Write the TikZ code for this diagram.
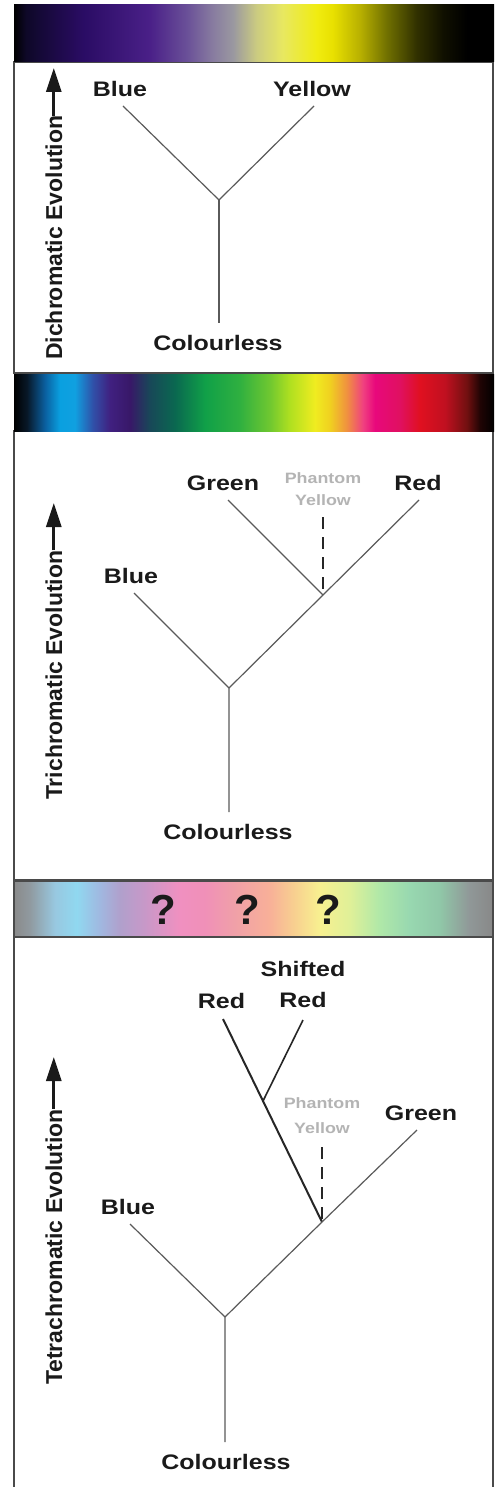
\documentclass[tikz,border=0pt]{standalone}
\usepackage{fontspec}
\setmainfont{Liberation Sans}
\usetikzlibrary{arrows.meta}
% bar 1 colours
\definecolor{aA}{HTML}{0E0828}\definecolor{aB}{HTML}{2A0C64}\definecolor{aC}{HTML}{4A2088}
\definecolor{aD}{HTML}{6A5098}\definecolor{aE}{HTML}{887CA0}\definecolor{aF}{HTML}{9A98A0}
\definecolor{aG}{HTML}{CCCC80}\definecolor{aH}{HTML}{E8E860}\definecolor{aI}{HTML}{F0EC10}
\definecolor{aJ}{HTML}{E8E000}\definecolor{aK}{HTML}{B8B000}\definecolor{aL}{HTML}{707000}
\definecolor{aM}{HTML}{303000}\definecolor{aN}{HTML}{101000}
% bar 2 colours
\definecolor{bA}{HTML}{081828}\definecolor{bB}{HTML}{0A60A0}\definecolor{bC}{HTML}{0AA0E0}
\definecolor{bD}{HTML}{10A0E0}\definecolor{bE}{HTML}{3050A8}\definecolor{bF}{HTML}{402080}
\definecolor{bG}{HTML}{381868}\definecolor{bH}{HTML}{184858}\definecolor{bI}{HTML}{0A6850}
\definecolor{bJ}{HTML}{10A048}\definecolor{bK}{HTML}{30B040}\definecolor{bL}{HTML}{70C830}
\definecolor{bM}{HTML}{B0E020}\definecolor{bN}{HTML}{F0EC20}\definecolor{bO}{HTML}{F0D020}
\definecolor{bP}{HTML}{F09040}\definecolor{bQ}{HTML}{F04080}\definecolor{bR}{HTML}{E8087C}
\definecolor{bS}{HTML}{E01060}\definecolor{bT}{HTML}{E01020}\definecolor{bU}{HTML}{C01020}
\definecolor{bV}{HTML}{701010}\definecolor{bW}{HTML}{200404}
% bar 3 colours
\definecolor{cA}{HTML}{8A8A8A}\definecolor{cB}{HTML}{909AA0}\definecolor{cC}{HTML}{98C8E0}
\definecolor{cD}{HTML}{90D8F0}\definecolor{cE}{HTML}{A0B8E0}\definecolor{cF}{HTML}{B0A0CC}
\definecolor{cG}{HTML}{C898C8}\definecolor{cH}{HTML}{F090C0}\definecolor{cI}{HTML}{F090B8}
\definecolor{cJ}{HTML}{F0A0A8}\definecolor{cK}{HTML}{F8B098}\definecolor{cL}{HTML}{F8D090}
\definecolor{cM}{HTML}{F8F090}\definecolor{cN}{HTML}{E0F098}\definecolor{cO}{HTML}{B0E8A8}
\definecolor{cP}{HTML}{98D8B0}\definecolor{cQ}{HTML}{90C8A8}\definecolor{cR}{HTML}{909898}
\definecolor{cS}{HTML}{888888}
% other colours
\definecolor{labelc}{HTML}{1A1A1A}
\definecolor{phc}{HTML}{B4B4B4}
\definecolor{linec}{HTML}{5A5A5A}
\definecolor{framec}{HTML}{4A4A4A}
\definecolor{darkline}{HTML}{262626}
% shadings: the middle 25bp..75bp part is fitted to the path
\pgfdeclarehorizontalshading{specA}{100bp}{color(0bp)=(black); color(25bp)=(black); color(26.25bp)=(aA);
  color(32.19bp)=(aB); color(39.17bp)=(aC); color(43.02bp)=(aD); color(45.73bp)=(aE); color(47.81bp)=(aF);
  color(50.31bp)=(aG); color(53.02bp)=(aH); color(56.56bp)=(aI); color(58.23bp)=(aJ); color(61.04bp)=(aK);
  color(63.85bp)=(aL); color(66.98bp)=(aM); color(69.69bp)=(aN); color(72.19bp)=(black); color(75bp)=(black);
  color(100bp)=(black)}
\pgfdeclarehorizontalshading{specB}{100bp}{color(0bp)=(black); color(25bp)=(black); color(26.35bp)=(bA);
  color(28.23bp)=(bB); color(29.79bp)=(bC); color(31.35bp)=(bD); color(33.23bp)=(bE); color(35bp)=(bF);
  color(37.08bp)=(bG); color(39.17bp)=(bH); color(41.77bp)=(bI); color(44.9bp)=(bJ); color(48.54bp)=(bK);
  color(51.67bp)=(bL); color(53.75bp)=(bM); color(56.35bp)=(bN); color(57.92bp)=(bO); color(59.69bp)=(bP);
  color(61.35bp)=(bQ); color(62.6bp)=(bR); color(65.21bp)=(bS); color(67.29bp)=(bT); color(69.9bp)=(bU);
  color(72.19bp)=(bV); color(73.54bp)=(bW); color(75bp)=(black); color(100bp)=(black)}
\pgfdeclarehorizontalshading{specC}{100bp}{color(0bp)=(cA); color(25bp)=(cA); color(26.67bp)=(cB);
  color(29.27bp)=(cC); color(31.56bp)=(cD); color(33.96bp)=(cE); color(36.04bp)=(cF); color(38.65bp)=(cG);
  color(42.29bp)=(cH); color(44.9bp)=(cI); color(48.02bp)=(cJ); color(51.67bp)=(cK); color(54.27bp)=(cL);
  color(56.88bp)=(cM); color(60bp)=(cN); color(63.13bp)=(cO); color(66.25bp)=(cP); color(69.38bp)=(cQ);
  color(72.5bp)=(cR); color(75bp)=(cS); color(100bp)=(cS)}
\newcommand{\widetxt}[1]{\scalebox{1.19}[1]{#1}}
\begin{document}
\begin{tikzpicture}[x=1pt,y=-1pt,
  lbl/.style={font=\bfseries\fontsize{21}{21}\selectfont, text=labelc, inner sep=0pt},
  twoline/.style={lbl, align=center, font=\bfseries\fontsize{21}{31}\selectfont},
  ph/.style={font=\bfseries\fontsize{15}{22}\selectfont, text=phc, inner sep=0pt, align=center},
  evo/.style={font=\bfseries\fontsize{23}{23}\selectfont, text=labelc, rotate=90, anchor=base west, inner sep=0pt},
  evarrow/.style={draw=labelc, line width=3pt, -{Triangle[length=24pt,width=15pt]}},
  branch/.style={draw=linec, line width=1.2pt},
  dashbranch/.style={draw=darkline, line width=1.8pt, dash pattern=on 12pt off 8pt},
  redbranch/.style={draw=darkline, line width=2pt},
  frame/.style={draw=framec, line width=1.2pt},
  qm/.style={font=\bfseries\fontsize{42}{42}\selectfont, text=labelc, inner sep=0pt}]
\useasboundingbox (0,0) rectangle (497,1487);
\fill[white] (0,0) rectangle (497,1487);
% panel frames
\draw[frame] (14,62) rectangle (493,373);
\draw[frame] (14,431) rectangle (493,880);
\draw[frame] (14,1500) -- (14,937) -- (493,937) -- (493,1500);
% spectrum bars
\shade[shading=specA] (14,5) rectangle (494,62);
\shade[shading=specB] (14,374) rectangle (494,431);
\shade[shading=specC, draw=framec, line width=1.2pt] (14,881) rectangle (493,937);
\node[qm] (q1) at (163,910) {?};
\node[qm] (q2) at (247,910) {?};
\node[qm] (q3) at (328,910) {?};

% ---------- panel 1 ----------
\node[evo] (dich) at (62,360) {Dichromatic Evolution};
\coordinate (dtip) at (54,68);
\draw[evarrow] (dich.east) -- (dich.east |- dtip);
\node[lbl] (blueA) at (120,89) {\widetxt{Blue}};
\node[lbl] (yellowA) at (312,89) {\widetxt{Yellow}};
\node[lbl] (colA) at (218,343) {\widetxt{Colourless}};
\coordinate (jA) at (219,200);
\coordinate (bAe) at (123,106);
\coordinate (yAe) at (314,106);
\coordinate (cAe) at (219,323);
\draw[branch] (bAe) -- (jA) -- (yAe);
\draw[branch] (jA) -- (cAe);

% ---------- panel 2 ----------
\node[evo] (tri) at (62,800) {Trichromatic Evolution};
\coordinate (ttip) at (54,503);
\draw[evarrow] (tri.east) -- (tri.east |- ttip);
\node[lbl] (greenB) at (223,483) {\widetxt{Green}};
\node[ph] (phB) at (323,489) {\widetxt{Phantom}\\\widetxt{Yellow}};
\node[lbl] (redB) at (418,483) {\widetxt{Red}};
\node[lbl] (blueB) at (131,576) {\widetxt{Blue}};
\node[lbl] (colB) at (228,832) {\widetxt{Colourless}};
\coordinate (gBe) at (228,500);
\coordinate (rBe) at (419,500);
\coordinate (pBe) at (323,517);
\coordinate (jB1) at (323,595);
\coordinate (bBe) at (134,593);
\coordinate (jB0) at (229,688);
\coordinate (cBe) at (229,812);
\draw[branch] (gBe) -- (jB1);
\draw[branch] (rBe) -- (jB1) -- (jB0);
\draw[dashbranch] (pBe) -- (jB1);
\draw[branch] (bBe) -- (jB0) -- (cBe);

% ---------- panel 3 ----------
\node[evo] (tetra) at (62,1385) {Tetrachromatic Evolution};
\coordinate (tttip) at (54,1057);
\draw[evarrow] (tetra.east) -- (tetra.east |- tttip);
\node[lbl] (redC) at (221.5,1001) {\widetxt{Red}};
\node[twoline] (shC) at (303,984) {\widetxt{Shifted}\\\widetxt{Red}};
\node[ph, font=\bfseries\fontsize{15}{25}\selectfont] (phC) at (322,1115.5) {\widetxt{Phantom}\\\widetxt{Yellow}};
\node[lbl] (greenC) at (421,1113) {\widetxt{Green}};
\node[lbl] (blueC) at (128,1207) {\widetxt{Blue}};
\node[lbl] (colC) at (226,1461.5) {\widetxt{Colourless}};
\coordinate (rCe) at (223,1019);
\coordinate (sCe) at (303,1020);
\coordinate (jC2) at (263,1101);
\coordinate (pCe) at (322,1147);
\coordinate (jC1) at (322,1222);
\coordinate (gCe) at (417,1130);
\coordinate (jC0) at (225,1317);
\coordinate (bCe) at (130,1224);
\coordinate (cCe) at (225,1442);
\draw[redbranch] (rCe) -- (jC1);
\draw[draw=darkline, line width=1.6pt] (sCe) -- (jC2);
\draw[dashbranch] (pCe) -- (jC1);
\draw[branch] (gCe) -- (jC1) -- (jC0);
\draw[branch] (bCe) -- (jC0) -- (cCe);
\end{tikzpicture}
\end{document}
